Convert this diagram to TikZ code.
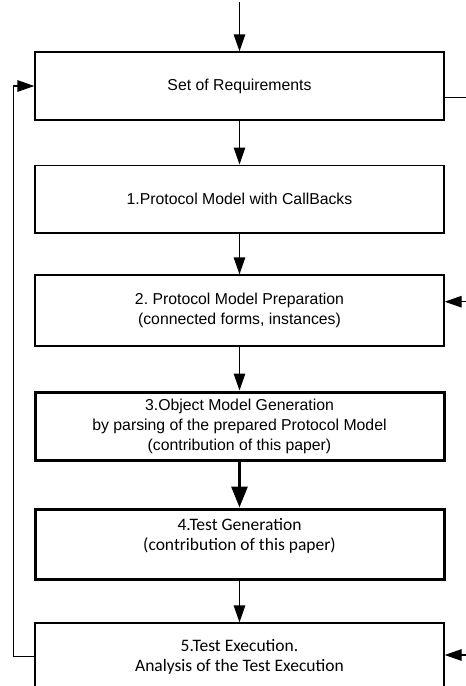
\documentclass[tikz,border=0pt]{standalone}
\usepackage{fontspec}
\setmainfont{Liberation Sans}
\newfontfamily\calfont{Carlito}
\usetikzlibrary{arrows.meta}
\begin{document}
\frenchspacing
\begin{tikzpicture}[x=1pt,y=-1pt,
  box/.style={draw, line width=1.3pt, minimum width=409pt, inner sep=0pt, align=center,
    font=\fontsize{15.8}{20}\selectfont},
  thickbox/.style={box, line width=3pt},
  calbox/.style={font=\calfont\fontsize{17.5}{20}\selectfont},
  arr/.style={line width=1.3pt, -{Triangle[length=17pt,width=11.5pt]}},
  thickarr/.style={line width=3pt, -{Triangle[length=21pt,width=16pt]}},
  plain/.style={line width=1.3pt}]
\useasboundingbox (0,0) rectangle (466,686);
\clip (0,0) rectangle (466,686);
\node[box, minimum height=68pt] (b0) at (239.5,86) {Set of Requirements};
\node[box, minimum height=67.7pt] (b1) at (239.5,199) {1.Protocol Model with CallBacks};
\node[box, minimum height=71pt] (b2) at (239.5,310.5) {2. Protocol Model Preparation\\(connected forms, instances)};
\node[thickbox, minimum height=68pt] (b3) at (239.5,426) {3.Object Model Generation\\by parsing of the prepared Protocol Model\\(contribution of this paper)};
\node[thickbox, calbox, minimum height=70pt] (b4) at (239.5,544) {4.Test Generation\\(contribution of this paper)\\\mbox{}};
\node[box, calbox, minimum height=67pt] (b5) at (239.5,656.5) {5.Test Execution.\\Analysis of the Test Execution};
\coordinate (top) at (239.5,2);
\coordinate (r0) at (470,97.7);
\coordinate (r2) at (470,301.7);
\coordinate (r5) at (470,655);
\draw[arr] (top) -- (b0.north);
\draw[arr] (b0.south) -- (b1.north);
\draw[arr] (b1.south) -- (b2.north);
\draw[arr] (b2.south) -- (b3.north);
\draw[thickarr] (b3.south) -- (b4.north);
\draw[arr] (b4.south) -- (b5.north);
\draw[arr] (b5.west) -- ++(-21,0) |- (b0.west);
\draw[plain] (b0.east |- r0) -- (r0);
\draw[arr] (r2) -- (b2.east |- r2);
\draw[arr] (r5) -- (b5.east |- r5);
\end{tikzpicture}
\end{document}
